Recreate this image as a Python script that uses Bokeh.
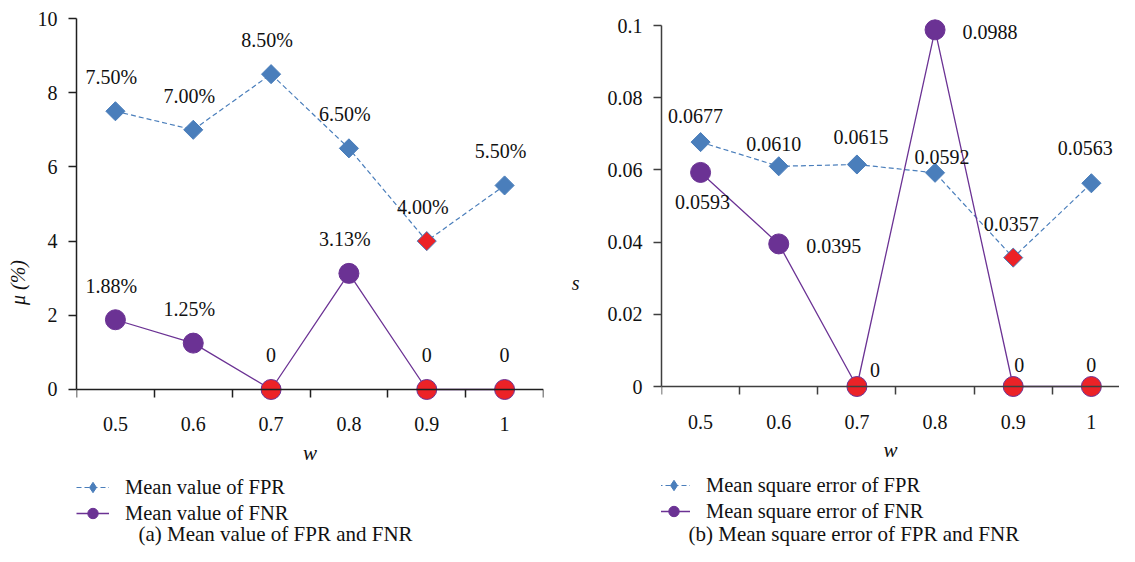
import numpy as np
from bokeh.plotting import figure
from bokeh.layouts import row
from bokeh.models import Range1d, FixedTicker, Legend, LegendItem, Label
from bokeh.core.properties import value
from bokeh.embed import file_html
from bokeh.resources import INLINE

# ---------------- data ----------------
w_values = [0.5, 0.6, 0.7, 0.8, 0.9, 1.0]
w_labels = ["0.5", "0.6", "0.7", "0.8", "0.9", "1"]

fpr_mean = [7.5, 7.0, 8.5, 6.5, 4.0, 5.5]
fnr_mean = [1.88, 1.25, 0.0, 3.13, 0.0, 0.0]
fpr_mean_labels = ["7.50%", "7.00%", "8.50%", "6.50%", "4.00%", "5.50%"]
fnr_mean_labels = ["1.88%", "1.25%", "0", "3.13%", "0", "0"]

fpr_mse = [0.0677, 0.0610, 0.0615, 0.0592, 0.0357, 0.0563]
fnr_mse = [0.0593, 0.0395, 0.0, 0.0988, 0.0, 0.0]
fpr_mse_labels = ["0.0677", "0.0610", "0.0615", "0.0592", "0.0357", "0.0563"]
fnr_mse_labels = ["0.0593", "0.0395", "0", "0.0988", "0", "0"]

mu_ticks = [0, 2, 4, 6, 8, 10]
mu_tick_labels = ["0", "2", "4", "6", "8", "10"]
s_ticks = [0, 0.02, 0.04, 0.06, 0.08, 0.1]
s_tick_labels = ["0", "0.02", "0.04", "0.06", "0.08", "0.1"]

# ---------------- styles ----------------
FONT = value("Liberation Serif")
BLUE = "#4A7EBB"
PURPLE = "#6B3294"
RED = "#EC2227"
TXT = "#111111"
H = 546


def highlight(vals, base):
    m = min(vals)
    return [RED if v == m else base for v in vals]


def make_panel(width, borders, y_range, yticks, ylabels, ylabel, ylabel_orient,
               ylabel_standoff, x_end, fpr, fnr, fpr_lab, fnr_lab,
               fpr_off, fnr_off, leg_names, leg_loc, leg_standoff,
               caption, cap_pos, axis_color):
    bl, br, bt, bb = borders
    half = (w_values[1] - w_values[0]) / 2
    bounds = [w - half for w in w_values] + [w_values[-1] + half]
    p = figure(width=width, height=H, output_backend="svg", toolbar_location=None,
               x_range=Range1d(bounds[0], x_end), y_range=Range1d(*y_range),
               min_border_left=bl, min_border_right=br, min_border_top=bt,
               min_border_bottom=bb)
    p.outline_line_color = None
    p.grid.visible = False
    p.background_fill_color = "white"
    p.border_fill_color = "white"

    xa = p.xaxis[0]
    xa.fixed_location = yticks[0]
    xa.ticker = FixedTicker(ticks=w_values, minor_ticks=bounds)
    xa.major_label_overrides = dict(zip(w_values, w_labels))
    xa.major_tick_line_color = None
    xa.major_tick_out = 0
    xa.major_tick_in = 0
    xa.minor_tick_out = 8
    xa.minor_tick_in = 0
    xa.minor_tick_line_color = axis_color
    xa.axis_line_color = axis_color
    xa.axis_line_width = 1.5
    xa.minor_tick_line_width = 1.5
    xa.major_label_standoff = 20
    xa.major_label_text_font = "Liberation Serif"
    xa.major_label_text_font_size = "20px"
    xa.major_label_text_color = TXT
    xa.axis_label = "w"
    xa.axis_label_text_font = "Liberation Serif"
    xa.axis_label_text_font_style = "italic"
    xa.axis_label_text_font_size = "21px"
    xa.axis_label_text_color = TXT
    xa.axis_label_standoff = 6

    ya = p.yaxis[0]
    ya.bounds = (yticks[0], yticks[-1])
    ya.ticker = FixedTicker(ticks=yticks, minor_ticks=[])
    ya.major_label_overrides = dict(zip(yticks, ylabels))
    ya.major_tick_out = 8
    ya.major_tick_in = 0
    ya.major_tick_line_color = axis_color
    ya.major_tick_line_width = 1.5
    ya.axis_line_color = axis_color
    ya.axis_line_width = 1.5
    ya.major_label_standoff = 11
    ya.major_label_text_font = "Liberation Serif"
    ya.major_label_text_font_size = "20px"
    ya.major_label_text_color = TXT
    ya.axis_label = ylabel
    ya.axis_label_orientation = ylabel_orient
    ya.axis_label_text_font = "Liberation Serif"
    ya.axis_label_text_font_style = "italic"
    ya.axis_label_text_font_size = "20px"
    ya.axis_label_text_color = TXT
    ya.axis_label_standoff = ylabel_standoff

    l1 = p.line(w_values, fpr, line_color=BLUE, line_width=1.2, line_dash="5 3")
    p.scatter(w_values, fpr, marker="square", size=13.5, angle=np.pi / 4,
              fill_color=highlight(fpr, BLUE), line_color=BLUE, line_width=1)
    l2 = p.line(w_values, fnr, line_color=PURPLE, line_width=1.3)
    s2 = p.scatter(w_values, fnr, marker="circle", size=20,
                   fill_color=highlight(fnr, PURPLE), line_color=PURPLE, line_width=1)
    # legend-only diamond key (legend keys ignore marker rotation)
    key1 = p.scatter([np.nan], [np.nan], marker="diamond", fill_color=BLUE,
                     line_color=BLUE, line_width=1)

    p.text(w_values, fpr, text=fpr_lab, x_offset=fpr_off[0], y_offset=fpr_off[1],
           text_font=FONT, text_font_size="20px", text_color=TXT,
           text_align="center", text_baseline="middle")
    p.text(w_values, fnr, text=fnr_lab, x_offset=fnr_off[0], y_offset=fnr_off[1],
           text_font=FONT, text_font_size="20px", text_color=TXT,
           text_align="center", text_baseline="middle")

    legend = Legend(items=[LegendItem(label=leg_names[0], renderers=[l1, key1]),
                           LegendItem(label=leg_names[1], renderers=[l2, s2])],
                    location=leg_loc, orientation="vertical",
                    border_line_color=None, background_fill_alpha=0,
                    padding=0, margin=0, spacing=0,
                    glyph_width=33, glyph_height=26, label_height=26,
                    label_standoff=leg_standoff,
                    label_text_font="Liberation Serif",
                    label_text_font_size="20.5px", label_text_color=TXT)
    p.add_layout(legend)

    p.add_layout(Label(x=cap_pos[0], y=cap_pos[1], x_units="screen", y_units="screen",
                       text=caption, text_font="Liberation Serif",
                       text_font_size="21px", text_color=TXT,
                       text_align="left", text_baseline="middle"))
    return p


p1 = make_panel(
    568, (76, 25, 18, 0), (-4.232, 10), mu_ticks, mu_tick_labels, "μ (%)", "parallel", 6,
    1.05, fpr_mean, fnr_mean, fpr_mean_labels, fnr_mean_labels,
    ([-4] * 6, [-34] * 6),
    ([-4, -4, 0, -4, 0, 0], [-34] * 6),
    ["Mean value of FPR", "Mean value of FNR"], (0, 20), 16,
    "(a)  Mean value of FPR and FNR", (62, 13), "#1f1f1f")

p2 = make_panel(
    551, (91, 0, 18, 0), (-0.04432, 0.10194), s_ticks, s_tick_labels, "s", "horizontal", 25,
    1.036, fpr_mse, fnr_mse, fpr_mse_labels, fnr_mse_labels,
    ([-5, -5, 4, 7, -2, -6], [-26, -22, -27, -16, -34, -35]),
    ([2, 55, 18, 55, 6, 0], [30, 2, -17, 2, -22, -22]),
    ["Mean square error of FPR", "Mean square error of FNR"], (-4, 22), 16,
    "(b)  Mean square error of FPR and FNR", (27, 13), "#3f3f3f")

layout = row(p1, p2)
open("out.html", "w").write(file_html(layout, INLINE))
